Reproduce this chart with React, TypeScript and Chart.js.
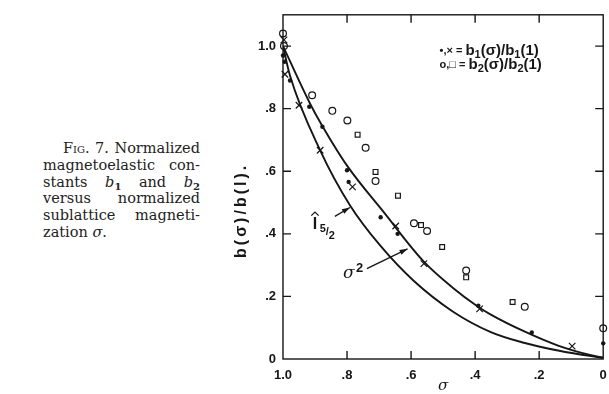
import React, { useEffect, useRef } from "react";
import { Chart, registerables } from "chart.js";
Chart.register(...registerables);

const INK = "#161616";
const SANS = "'Liberation Sans', Arial, sans-serif";
const SERIF = "'DejaVu Serif', serif";

// axis ticks
const xTickValues = [0, 0.2, 0.4, 0.6, 0.8, 1.0];
const xTickLabels = ["0", ".2", ".4", ".6", ".8", "1.0"];
const yTickValues = [0, 0.2, 0.4, 0.6, 0.8, 1.0];
const yTickLabels = ["0", ".2", ".4", ".6", ".8", "1.0"];

// b1(σ)/b1(1), filled dots
const b1DotSigma = [1.0, 0.995, 0.978, 0.918, 0.877, 0.8, 0.795, 0.695, 0.642, 0.39, 0.223, 0.0];
const b1DotValue = [0.97, 0.95, 0.89, 0.806, 0.742, 0.603, 0.566, 0.453, 0.4, 0.17, 0.085, 0.05];
// b1(σ)/b1(1), crosses
const b1CrossSigma = [0.997, 0.994, 0.95, 0.884, 0.783, 0.648, 0.56, 0.386, 0.097];
const b1CrossValue = [1.02, 0.91, 0.811, 0.667, 0.55, 0.425, 0.305, 0.16, 0.041];
// b2(σ)/b2(1), open circles
const b2CircleSigma = [1.0, 0.997, 0.909, 0.846, 0.799, 0.742, 0.711, 0.591, 0.55, 0.428, 0.245, 0.0];
const b2CircleValue = [1.04, 1.0, 0.843, 0.793, 0.762, 0.675, 0.569, 0.434, 0.409, 0.283, 0.167, 0.098];
// b2(σ)/b2(1), open squares
const b2SquareSigma = [0.767, 0.711, 0.641, 0.569, 0.503, 0.428, 0.283];
const b2SquareValue = [0.717, 0.598, 0.522, 0.428, 0.358, 0.261, 0.182];
// σ² curve
const sigmaSqSigma = [1.0, 0.915, 0.879, 0.8, 0.686, 0.561, 0.47, 0.392, 0.351, 0.248, 0.141, 0.038, 0.0];
const sigmaSqValue = [1.0, 0.815, 0.748, 0.618, 0.47, 0.312, 0.228, 0.168, 0.142, 0.089, 0.043, 0.012, 0.004];
// Î5/2 curve
const i52Sigma = [1.0, 0.978, 0.884, 0.79, 0.696, 0.592, 0.47, 0.351, 0.248, 0.141, 0.038, 0.0];
const i52Value = [1.0, 0.905, 0.667, 0.49, 0.362, 0.25, 0.152, 0.086, 0.052, 0.027, 0.009, 0.004];

// annotation anchors (data coordinates)
const i52LabelAt = { s: 0.907, v: 0.415 };
const i52ArrowFrom = { s: 0.838, v: 0.456 };
const i52ArrowTo = { s: 0.791, v: 0.484 };
const sqLabelAt = { s: 0.813, v: 0.258 };
const sqArrowFrom = { s: 0.738, v: 0.289 };
const sqArrowTo = { s: 0.611, v: 0.352 };
const legendAt = { s: 0.511, v1: 0.972, v2: 0.928 };

const pts = (xs: number[], ys: number[]) => xs.map((x, i) => ({ x, y: ys[i] }));

function arrow(ctx: CanvasRenderingContext2D, x1: number, y1: number, x2: number, y2: number) {
  ctx.beginPath();
  ctx.moveTo(x1, y1);
  ctx.lineTo(x2, y2);
  ctx.stroke();
  const a = Math.atan2(y2 - y1, x2 - x1);
  const h = 8, w = 2.6;
  ctx.beginPath();
  ctx.moveTo(x2, y2);
  ctx.lineTo(x2 - h * Math.cos(a) + w * Math.sin(a), y2 - h * Math.sin(a) - w * Math.cos(a));
  ctx.lineTo(x2 - h * Math.cos(a) - w * Math.sin(a), y2 - h * Math.sin(a) + w * Math.cos(a));
  ctx.closePath();
  ctx.fill();
}

function runs(ctx: CanvasRenderingContext2D, x: number, y: number, parts: [string, string, number][]) {
  let cx = x;
  for (const [t, font, dy] of parts) {
    ctx.font = font;
    ctx.fillText(t, cx, y + dy);
    cx += ctx.measureText(t).width;
  }
}

const decor = {
  id: "decor",
  afterDraw(chart: any) {
    const { ctx, chartArea } = chart;
    const { left, right, top, bottom } = chartArea;
    const xs = chart.scales.x, ys = chart.scales.y;
    const X = (s: number) => xs.getPixelForValue(s);
    const Y = (v: number) => ys.getPixelForValue(v);
    ctx.save();
    ctx.strokeStyle = INK;
    ctx.fillStyle = INK;
    ctx.lineWidth = 1.4;
    ctx.strokeRect(left, top, right - left, bottom - top);
    const L = 8;
    ctx.beginPath();
    xTickValues.forEach((v) => {
      if (v === 0 || v === 1) return;
      const px = X(v);
      ctx.moveTo(px, bottom); ctx.lineTo(px, bottom - L);
      ctx.moveTo(px, top); ctx.lineTo(px, top + L);
    });
    yTickValues.forEach((v) => {
      if (v === 0) return;
      const py = Y(v);
      ctx.moveTo(left, py); ctx.lineTo(left + L, py);
      ctx.moveTo(right, py); ctx.lineTo(right - L, py);
    });
    ctx.stroke();

    // axis titles
    ctx.textBaseline = "alphabetic";
    ctx.textAlign = "center";
    ctx.font = `italic 15px ${SERIF}`;
    ctx.fillText("σ", X(0.5), bottom + 31);
    ctx.save();
    ctx.translate(left - 37, Y(0.475));
    ctx.rotate(-Math.PI / 2);
    ctx.font = `bold 16px ${SANS}`;
    try { (ctx as any).letterSpacing = "3px"; } catch (e) {}
    ctx.fillText("b(σ)/b(l).", 0, 0);
    try { (ctx as any).letterSpacing = "0px"; } catch (e) {}
    ctx.restore();

    // curve labels
    ctx.textAlign = "left";
    const ix = X(i52LabelAt.s), iy = Y(i52LabelAt.v);
    ctx.font = `bold 16px ${SANS}`;
    ctx.fillText("I", ix, iy);
    ctx.lineWidth = 1.3;
    ctx.beginPath();
    ctx.moveTo(ix - 1.5, iy - 13.5);
    ctx.lineTo(ix + 2.2, iy - 17);
    ctx.lineTo(ix + 5.9, iy - 13.5);
    ctx.stroke();
    ctx.font = `bold 11px ${SANS}`;
    ctx.fillText("5", ix + 7, iy + 3);
    ctx.fillText("/", ix + 13, iy + 6);
    ctx.fillText("2", ix + 16, iy + 10);
    arrow(ctx, X(i52ArrowFrom.s), Y(i52ArrowFrom.v), X(i52ArrowTo.s), Y(i52ArrowTo.v));

    const sx = X(sqLabelAt.s), sy = Y(sqLabelAt.v);
    ctx.font = `italic 17px ${SERIF}`;
    ctx.fillText("σ", sx, sy);
    ctx.font = `bold 13px ${SANS}`;
    ctx.fillText("2", sx + 13, sy - 6);
    arrow(ctx, X(sqArrowFrom.s), Y(sqArrowFrom.v), X(sqArrowTo.s), Y(sqArrowTo.v));

    // legend text
    const lx = X(legendAt.s);
    const big = `bold 15px ${SANS}`, small = `bold 11px ${SANS}`, mid = `bold 11px ${SANS}`;
    runs(ctx, lx, Y(legendAt.v1), [
      ["•,×", mid, -1], [" = ", mid, -1], ["b", big, 0], ["1", small, 3], ["(σ)/b", big, 0], ["1", small, 3], ["(1)", big, 0],
    ]);
    runs(ctx, lx, Y(legendAt.v2), [
      ["o,□", mid, -1], [" = ", mid, -1], ["b", big, 0], ["2", small, 3], ["(σ)/b", big, 0], ["2", small, 3], ["(1)", big, 0],
    ]);
    ctx.restore();
  },
};

function ChartView() {
  const ref = useRef<HTMLCanvasElement | null>(null);
  useEffect(() => {
    if (!ref.current) return;
    const tickFont = { family: SANS, size: 13, weight: "bold" as const };
    const chart = new Chart(ref.current, {
      type: "scatter",
      data: {
        datasets: [
          {
            type: "line",
            label: "σ²",
            data: pts(sigmaSqSigma, sigmaSqValue),
            borderColor: INK,
            borderWidth: 1.9,
            pointRadius: 0,
            cubicInterpolationMode: "monotone",
            fill: false,
          },
          {
            type: "line",
            label: "Î5/2",
            data: pts(i52Sigma, i52Value),
            borderColor: INK,
            borderWidth: 1.9,
            pointRadius: 0,
            cubicInterpolationMode: "monotone",
            fill: false,
          },
          {
            label: "b2 circles",
            data: pts(b2CircleSigma, b2CircleValue),
            pointStyle: "circle",
            pointRadius: 3.4,
            borderColor: INK,
            backgroundColor: "#fff",
            borderWidth: 1.2,
            clip: false,
          },
          {
            label: "b2 squares",
            data: pts(b2SquareSigma, b2SquareValue),
            pointStyle: "rect",
            pointRadius: 3.4,
            borderColor: INK,
            backgroundColor: "#fff",
            borderWidth: 1.2,
            clip: false,
          },
          {
            label: "b1 crosses",
            data: pts(b1CrossSigma, b1CrossValue),
            pointStyle: "crossRot",
            pointRadius: 4.6,
            borderColor: INK,
            borderWidth: 1.2,
            clip: false,
          },
          {
            label: "b1 dots",
            data: pts(b1DotSigma, b1DotValue),
            pointStyle: "circle",
            pointRadius: 2.2,
            borderColor: INK,
            backgroundColor: INK,
            borderWidth: 0,
            clip: false,
          },
        ] as any,
      },
      options: {
        animation: false,
        responsive: false,
        devicePixelRatio: 1,
        layout: { padding: { left: 0, top: 9, right: 5, bottom: 0 } },
        plugins: { legend: { display: false }, tooltip: { enabled: false } },
        scales: {
          x: {
            type: "linear",
            min: 0,
            max: 1,
            reverse: true,
            grid: { display: false, drawTicks: false },
            border: { display: false },
            afterBuildTicks: (s: any) => { s.ticks = xTickValues.map((value) => ({ value })); },
            afterFit: (s: any) => { s.height = 35; },
            ticks: {
              autoSkip: false,
              maxRotation: 0,
              padding: 9,
              color: INK,
              font: tickFont,
              callback: (v: any) => xTickLabels[xTickValues.findIndex((t) => Math.abs(t - v) < 1e-6)] ?? "",
            },
          },
          y: {
            type: "linear",
            min: 0,
            max: 1.1,
            grid: { display: false, drawTicks: false },
            border: { display: false },
            afterBuildTicks: (s: any) => { s.ticks = yTickValues.map((value) => ({ value })); },
            afterFit: (s: any) => { s.width = 283; },
            ticks: {
              autoSkip: false,
              padding: 7,
              color: INK,
              font: tickFont,
              callback: (v: any) => yTickLabels[yTickValues.findIndex((t) => Math.abs(t - v) < 1e-6)] ?? "",
            },
          },
        },
      },
      plugins: [decor],
    });
    return () => chart.destroy();
  }, []);
  return <canvas ref={ref} width={609} height={394} style={{ position: "absolute", left: 0, top: 0, width: 609, height: 394 }} />;
}

const captionLine: React.CSSProperties = {
  height: 16.8,
  lineHeight: "16.8px",
  whiteSpace: "nowrap",
  display: "flex",
  justifyContent: "space-between",
};
const sub: React.CSSProperties = { fontSize: 10, verticalAlign: "-3px", lineHeight: 0, fontStyle: "normal", fontWeight: "bold" };

function Caption() {
  return (
    <div style={{ position: "absolute", left: 43, top: 140, width: 157, fontFamily: SERIF, fontSize: 14.5, color: "#222" }}>
      <div style={{ ...captionLine, paddingLeft: 20 }}>
        <span><span style={{ fontVariant: "small-caps" }}>Fig.</span></span><span>7.</span><span>Normalized</span>
      </div>
      <div style={captionLine}>
        <span>magnetoelastic</span><span>con-</span>
      </div>
      <div style={captionLine}>
        <span>stants</span>
        <span><i>b</i><span style={sub}>1</span></span>
        <span>and</span>
        <span><i>b</i><span style={sub}>2</span></span>
      </div>
      <div style={captionLine}>
        <span>versus</span><span>normalized</span>
      </div>
      <div style={captionLine}>
        <span>sublattice</span><span>magneti-</span>
      </div>
      <div style={{ height: 16.8, lineHeight: "16.8px", whiteSpace: "nowrap" }}>
        zation <i>σ</i>.
      </div>
    </div>
  );
}

export default function App() {
  return (
    <div style={{ position: "fixed", left: 0, top: 0, width: 609, height: 394, background: "#fff", overflow: "hidden" }}>
      <Caption />
      <ChartView />
    </div>
  );
}
